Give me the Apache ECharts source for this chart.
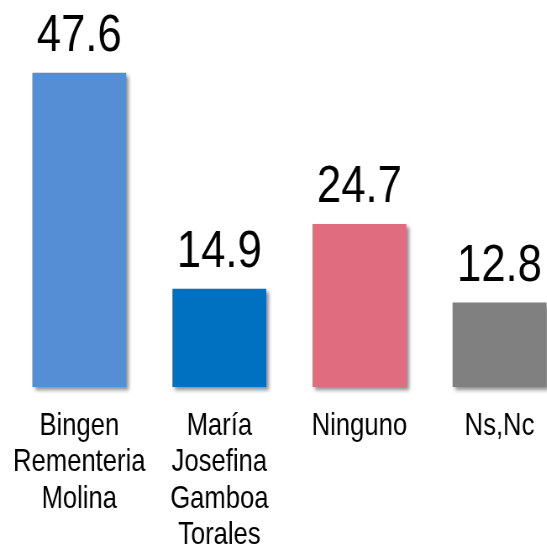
<!DOCTYPE html>
<html>
<head>
<meta charset="utf-8">
<script src="https://cdn.jsdelivr.net/npm/echarts@6/dist/echarts.min.js"></script>
<style>
  html, body { margin: 0; padding: 0; background: #fff; overflow: hidden; }
  /* draw wider, then squeeze horizontally to get a narrow-font look */
  #chart { width: 651px; height: 548px; transform: scaleX(0.84); transform-origin: 0 0; }
</style>
</head>
<body>
<div id="chart"></div>
<script>
const categories = ['Bingen\nRementeria\nMolina', 'María\nJosefina\nGamboa\nTorales', 'Ninguno', 'Ns,Nc']
const values = [47.6, 14.9, 24.7, 12.8]
const barColors = ['#558ED5', '#0070C0', '#E06C80', '#808080']

const font = '"Liberation Sans", Arial, sans-serif'

const chart = echarts.init(document.getElementById('chart'))
chart.setOption({
  backgroundColor: '#fff',
  animation: false,
  grid: {
    left: 11,
    width: 667,
    top: 57,
    bottom: 161,
    containLabel: false,
    outerBoundsMode: 'none'
  },
  xAxis: {
    type: 'category',
    data: categories,
    axisLine: { show: false },
    axisTick: { show: false },
    axisLabel: {
      interval: 0,
      margin: 21,
      color: '#000',
      fontFamily: font,
      fontSize: 30.5,
      lineHeight: 36.5,
      verticalAlign: 'top'
    }
  },
  yAxis: {
    type: 'value',
    min: 0,
    max: 50,
    show: false,
    splitLine: { show: false }
  },
  series: [{
    type: 'bar',
    barWidth: '67%',
    data: values.map((v, i) => ({
      value: v,
      itemStyle: { color: barColors[i] }
    })),
    itemStyle: {
      shadowColor: 'rgba(0,0,0,0.45)',
      shadowBlur: 4,
      shadowOffsetX: 3,
      shadowOffsetY: 3
    },
    label: {
      show: true,
      position: 'top',
      distance: 10,
      color: '#000',
      fontFamily: font,
      fontSize: 52
    }
  }]
})
</script>
</body>
</html>
